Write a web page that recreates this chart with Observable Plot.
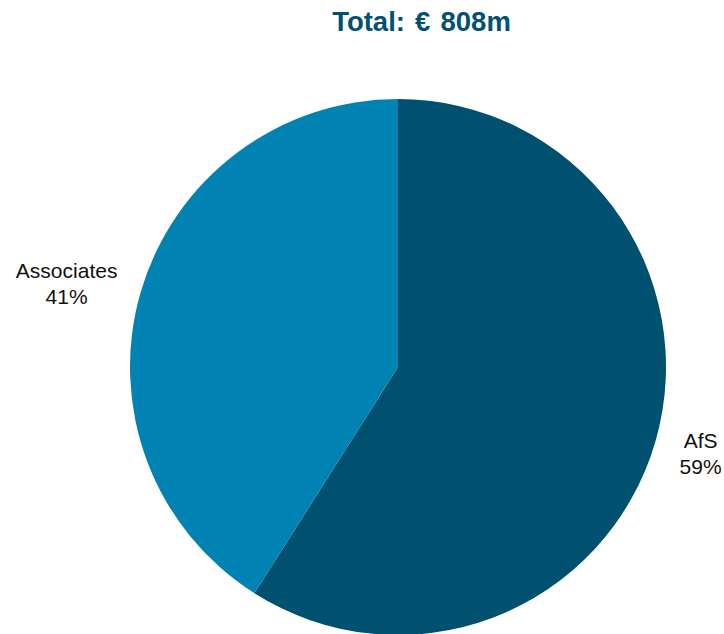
<!DOCTYPE html>
<html><head><meta charset="utf-8">
<script src="https://cdn.jsdelivr.net/npm/d3@7"></script>
<script src="https://cdn.jsdelivr.net/npm/@observablehq/plot@0.6"></script>
<style>
body{margin:0;background:#fff;font-family:"Liberation Sans",Arial,sans-serif;}
#title{height:50px;box-sizing:border-box;padding-top:6px;padding-left:119px;line-height:32px;font-size:27.5px;font-weight:bold;word-spacing:2.5px;color:#005172;text-align:center;white-space:nowrap;}
</style></head><body>
<div id="title">Total: € 808m</div>
<div id="chart"></div>
<script>
const categories = ["AfS", "Associates"];
const shares = [59, 41];
const colors = ["#00516F", "#0082B3"];

const data = categories.map((c, i) => ({category: c, share: shares[i]}));
const arcs = d3.pie().sort(null).value(d => d.share)(data);

const color = Plot.scale({color: {type: "ordinal", domain: categories, range: colors}});

const fontSize = 21;
const ctx = document.createElement("canvas").getContext("2d");
ctx.font = `${fontSize}px "Liberation Sans", Arial, sans-serif`;

const labels = arcs.map(a => {
  const mid = (a.startAngle + a.endAngle) / 2;
  const text = `${a.data.category}\n${a.data.share}%`;
  const half = Math.max(...text.split("\n").map(t => ctx.measureText(t).width)) / 2;
  const s = Math.sign(Math.sin(mid));
  return {text, x: 1.1 * Math.sin(mid), y: 1.1 * Math.cos(mid), dx: s * (half - 2), dy: s > 0 ? 3 : -3};
});

const pieMark = (index, scales) => {
  const cx = scales.x(0), cy = scales.y(0), r = scales.x(1) - scales.x(0);
  const arc = d3.arc().innerRadius(0).outerRadius(r);
  const g = d3.create("svg:g").attr("transform", `translate(${cx},${cy})`);
  g.selectAll("path").data(arcs).join("path")
    .attr("d", arc)
    .attr("fill", d => color.apply(d.data.category));
  return g.node();
};

const plot = Plot.plot({
  width: 724,
  height: 584,
  margin: 0,
  x: {domain: [-1, 1], range: [130, 666], axis: null},
  y: {domain: [-1, 1], range: [585, 49], axis: null},
  style: {fontFamily: '"Liberation Sans", Arial, sans-serif', background: "#fff"},
  marks: [
    pieMark,
    ...labels.map(d => Plot.text([d], {
      x: "x", y: "y", text: "text", dx: d.dx, dy: d.dy,
      fontSize, lineHeight: 1.24, fill: "#111", textAnchor: "middle"
    }))
  ]
});
document.getElementById("chart").appendChild(plot);
</script>
</body></html>
